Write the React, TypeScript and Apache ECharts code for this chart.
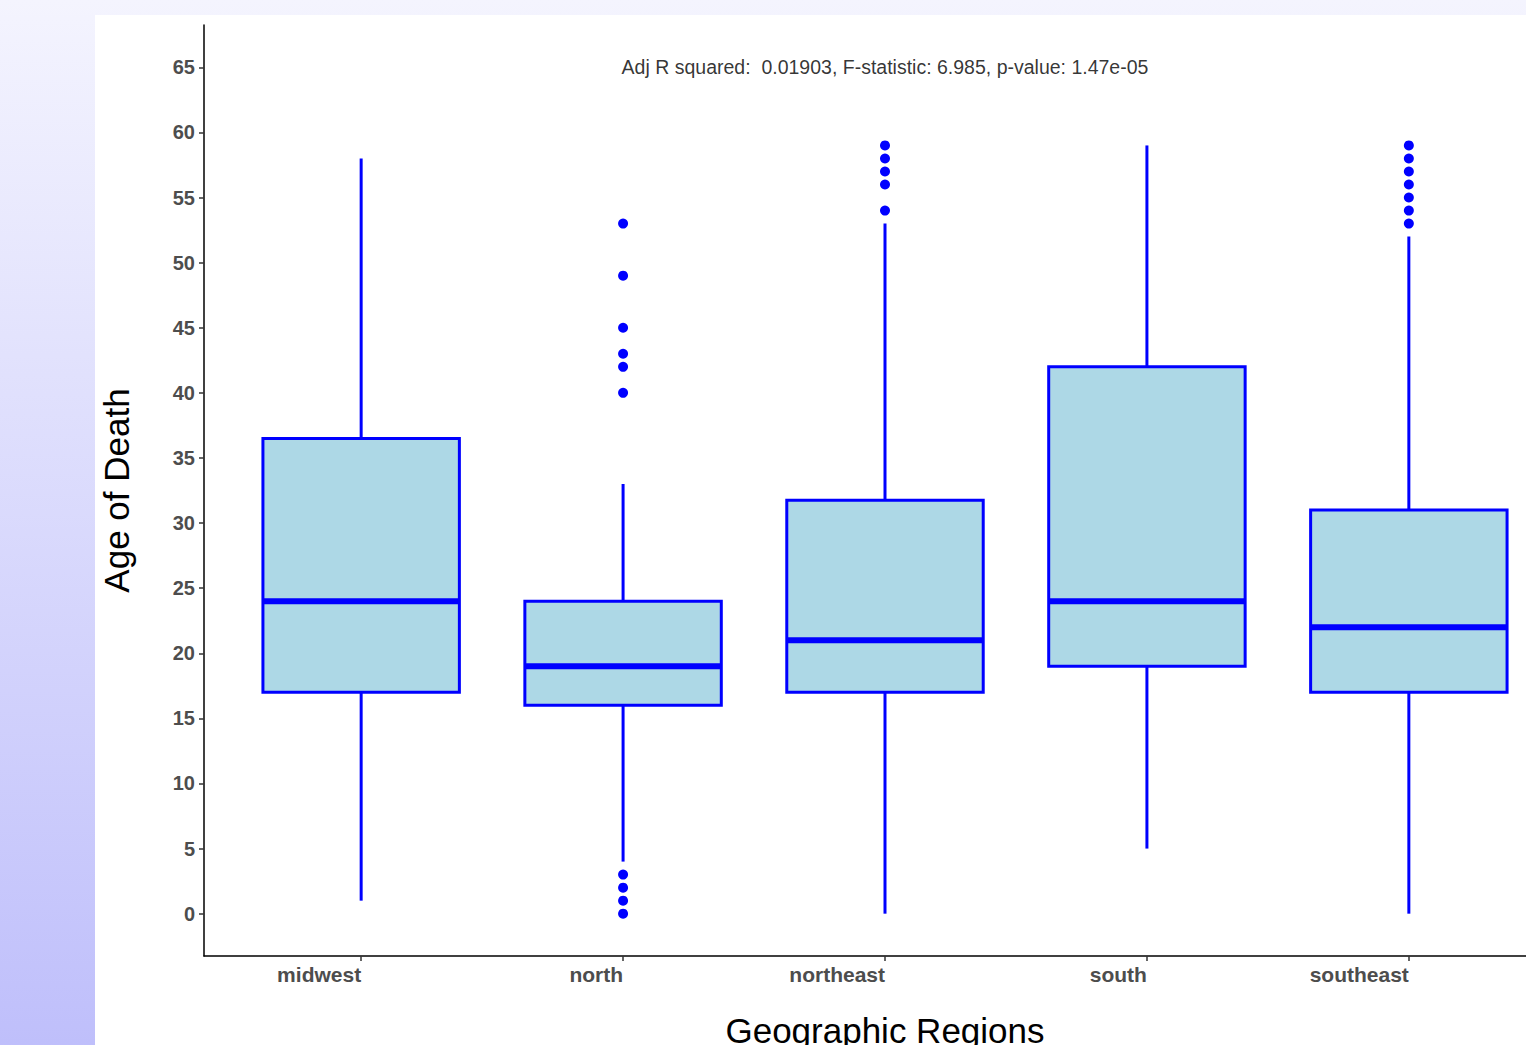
import React, { useEffect, useRef } from "react";
import * as echarts from "echarts";

const categories = ["midwest", "north", "northeast", "south", "southeast"];
const lowerWhisker = [1, 4, 0, 5, 0];
const q1 = [17, 16, 17, 19, 17];
const median = [24, 19, 21, 24, 22];
const q3 = [36.5, 24, 31.75, 42, 31];
const upperWhisker = [58, 33, 53, 59, 52];
const outliers: number[][] = [
  [],
  [53, 49, 45, 43, 42, 40, 3, 2, 1, 0],
  [59, 58, 57, 56, 54],
  [],
  [59, 58, 57, 56, 55, 54, 53],
];
const yTicks = [0, 5, 10, 15, 20, 25, 30, 35, 40, 45, 50, 55, 60, 65];
const annotation = "Adj R squared:  0.01903, F-statistic: 6.985, p-value: 1.47e-05";
const annotationPos = [3, 65];

const FONT = "Liberation Sans, Arial, Helvetica, sans-serif";

export default function App() {
  const ref = useRef<HTMLDivElement>(null);
  useEffect(() => {
    if (!ref.current) return;
    const chart = echarts.init(ref.current, undefined, { renderer: "svg" });
    const boxData = categories.map((_, i) => [
      i + 1,
      lowerWhisker[i],
      q1[i],
      median[i],
      q3[i],
      upperWhisker[i],
    ]);
    const outlierData: number[][] = [];
    outliers.forEach((arr, i) => arr.forEach((v) => outlierData.push([i + 1, v])));
    const halfW = 0.375;
    chart.setOption({
      animation: false,
      textStyle: { fontFamily: FONT },
      grid: {
        left: 204,
        top: 25,
        width: 1362,
        height: 931,
        containLabel: false,
        outerBoundsMode: "none",
      },
      xAxis: {
        type: "value",
        min: 0.4,
        max: 5.6,
        splitLine: { show: false },
        axisLine: { show: true, onZero: false, lineStyle: { color: "#000", width: 1.5 } },
        axisTick: {
          show: true,
          length: 5,
          customValues: [1, 2, 3, 4, 5],
          lineStyle: { color: "#333", width: 1.5 },
        },
        axisLabel: {
          show: true,
          customValues: [1, 2, 3, 4, 5],
          formatter: (v: number) => categories[Math.round(v) - 1] ?? "",
          align: "right",
          margin: 8,
          fontSize: 21,
          fontWeight: "bold",
          color: "#4D4D4D",
          fontFamily: FONT,
        },
        name: "Geographic Regions",
        nameLocation: "middle",
        nameGap: 57,
        nameTextStyle: { fontSize: 35, color: "#000", fontFamily: FONT },
      },
      yAxis: {
        type: "value",
        min: -3.25,
        max: 68.25,
        splitLine: { show: false },
        axisLine: { show: true, onZero: false, lineStyle: { color: "#000", width: 1.5 } },
        axisTick: {
          show: true,
          length: 5,
          customValues: yTicks,
          lineStyle: { color: "#333", width: 1.5 },
        },
        axisLabel: {
          show: true,
          customValues: yTicks,
          margin: 9,
          fontSize: 20,
          fontWeight: "bold",
          color: "#4D4D4D",
          fontFamily: FONT,
        },
        name: "Age of Death",
        nameLocation: "middle",
        nameGap: 70,
        nameRotate: 90,
        nameTextStyle: { fontSize: 35, color: "#000", fontFamily: FONT },
      },
      series: [
        {
          type: "custom",
          data: boxData,
          encode: { x: 0, y: [1, 2, 3, 4, 5] },
          renderItem: (params: any, api: any) => {
            const x = api.value(0);
            const lo = api.coord([x, api.value(1)]);
            const b1 = api.coord([x, api.value(2)]);
            const md = api.coord([x, api.value(3)]);
            const b3 = api.coord([x, api.value(4)]);
            const hi = api.coord([x, api.value(5)]);
            const left = api.coord([x - halfW, api.value(3)])[0];
            const right = api.coord([x + halfW, api.value(3)])[0];
            const stroke = "#0000FF";
            return {
              type: "group",
              children: [
                {
                  type: "line",
                  shape: { x1: hi[0], y1: hi[1], x2: b3[0], y2: b3[1] },
                  style: { stroke, lineWidth: 3 },
                },
                {
                  type: "line",
                  shape: { x1: b1[0], y1: b1[1], x2: lo[0], y2: lo[1] },
                  style: { stroke, lineWidth: 3 },
                },
                {
                  type: "rect",
                  shape: { x: left, y: b3[1], width: right - left, height: b1[1] - b3[1] },
                  style: { fill: "#ADD8E6", stroke, lineWidth: 3 },
                },
                {
                  type: "line",
                  shape: { x1: left, y1: md[1], x2: right, y2: md[1] },
                  style: { stroke, lineWidth: 6 },
                },
              ],
            };
          },
          z: 2,
        },
        {
          type: "scatter",
          data: outlierData,
          symbol: "circle",
          symbolSize: 10,
          itemStyle: { color: "#0000FF", opacity: 1 },
          z: 3,
        },
        {
          type: "scatter",
          data: [annotationPos],
          symbolSize: 0,
          silent: true,
          label: {
            show: true,
            position: "inside",
            formatter: () => annotation,
            fontSize: 19.5,
            color: "#000",
            fontFamily: FONT,
          },
          z: 4,
        },
      ],
    });
    return () => chart.dispose();
  }, []);
  return (
    <div
      style={{
        position: "absolute",
        left: 0,
        top: 0,
        width: 1526,
        height: 1045,
        overflow: "hidden",
        background: "linear-gradient(to bottom, #F4F4FE 0%, #BFBFFB 100%)",
      }}
    >
      <div
        style={{
          position: "absolute",
          left: 95,
          top: 15,
          width: 1431,
          height: 1030,
          background: "#FFFFFF",
        }}
      />
      <div ref={ref} style={{ position: "absolute", left: 0, top: 0, width: 1620, height: 1045 }} />
    </div>
  );
}
